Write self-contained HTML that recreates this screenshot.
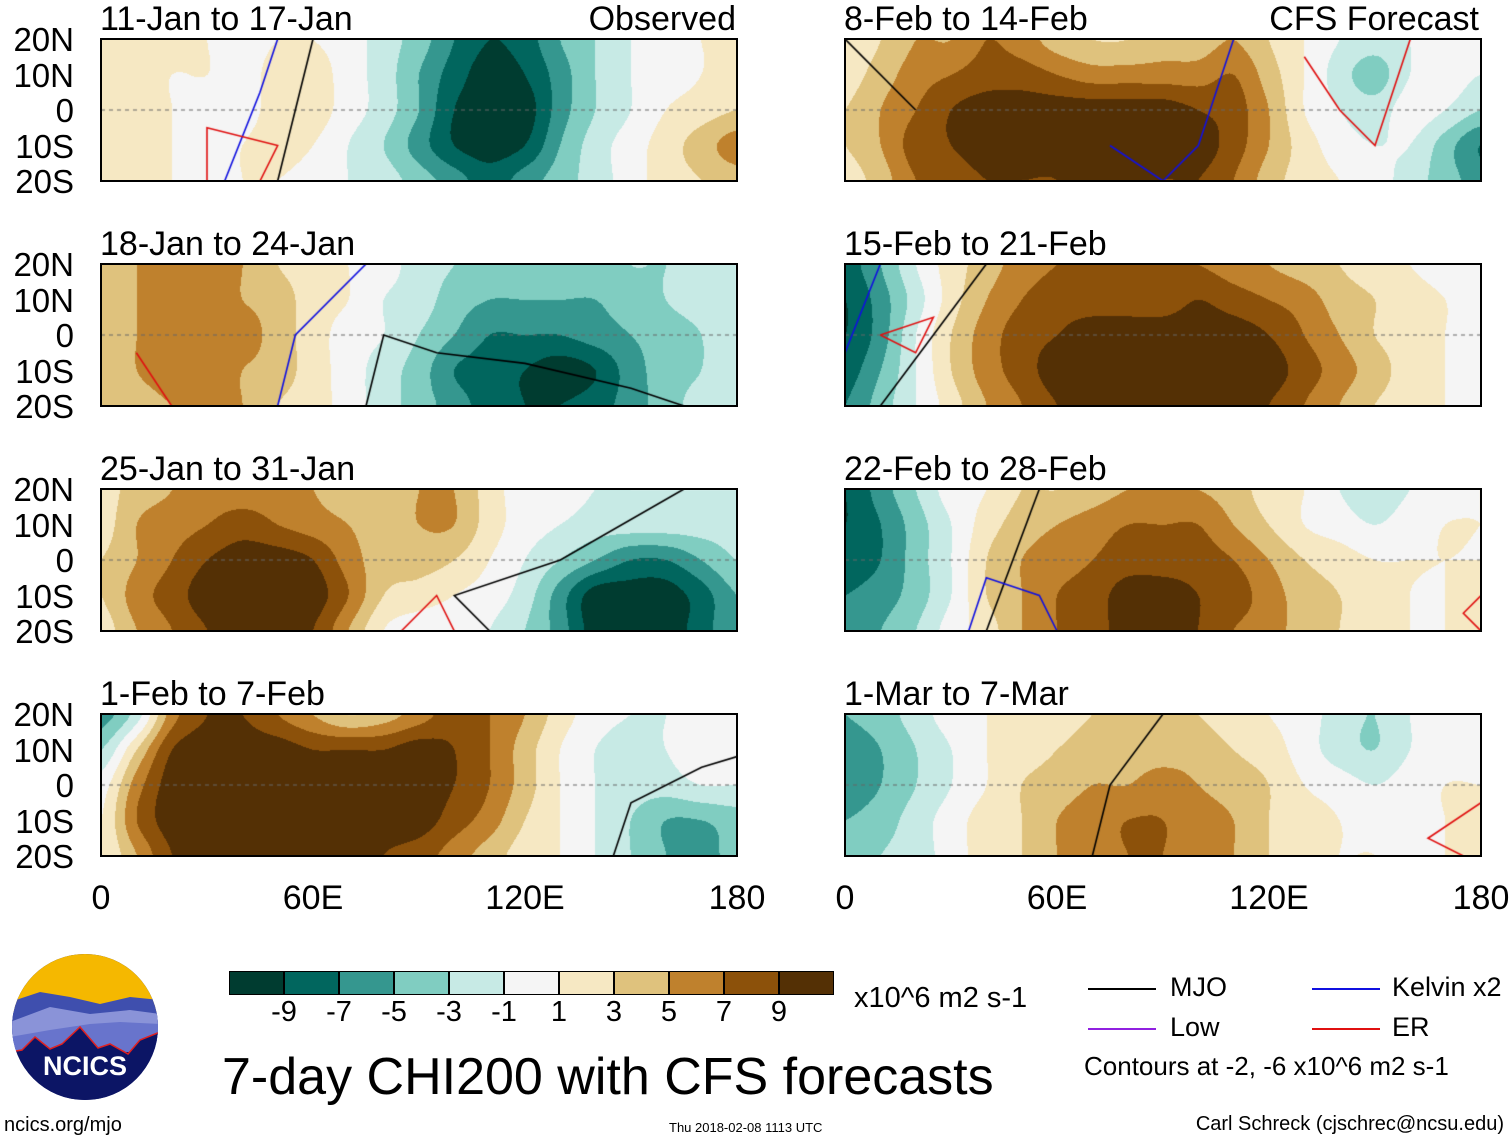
<!DOCTYPE html>
<html><head><meta charset="utf-8">
<style>
body{margin:0;background:#fff;width:1510px;height:1142px;overflow:hidden;position:relative;font-family:"Liberation Sans",Arial,sans-serif;color:#000}
.abs{position:absolute;white-space:nowrap}
canvas{position:absolute}
.frame{position:absolute;border:2px solid #000;box-sizing:border-box}
.t{font-size:34px;line-height:34px}
.yl{font-size:33px;line-height:33px;text-align:right;width:72px}
.xl{font-size:34px;line-height:34px}
</style></head><body>
<div id="root"></div>
<svg id="logo" class="abs" style="left:10px;top:952px" width="150" height="150" viewBox="0 0 150 150">
<defs><clipPath id="cc"><circle cx="75" cy="75" r="73"/></clipPath></defs>
<g clip-path="url(#cc)">
<rect width="150" height="150" fill="#0c1565"/>
<rect width="150" height="60" fill="#f5b800"/>
<path d="M0 50 L30 40 L60 45 L90 52 L120 45 L150 48 L150 100 L0 100Z" fill="#3f4fae"/>
<path d="M0 70 L40 55 L80 62 L120 58 L150 62 L150 100 L0 100Z" fill="#8a93d8"/>
<path d="M0 85 L40 78 L80 72 L110 70 L150 72 L150 100 L0 100Z" fill="#6874cc"/>
<path d="M0 100 L12 98 L25 85 L40 97 L52 92 L70 75 L88 96 L100 92 L118 102 L130 88 L150 80 L150 150 L0 150Z" fill="#0c1565" stroke="#e02020" stroke-width="1.5"/>
<text x="75" y="123" text-anchor="middle" font-family="Liberation Sans" font-weight="bold" font-size="27" fill="#fff">NCICS</text>
</g></svg>
<script>
// ---- Data ----
const lonTicks=["0","60E","120E","180"];
const latTicks=["20N","10N","0","10S","20S"];
const levels=[-9,-7,-5,-3,-1,1,3,5,7,9];
const levelColors=["#003c30","#01665e","#35978f","#80cdc1","#c7eae5","#f5f5f5","#f6e8c3","#dfc27d","#bf812d","#8c510a","#543005"];
const panelTitles=["11-Jan to 17-Jan","18-Jan to 24-Jan","25-Jan to 31-Jan","1-Feb to 7-Feb","8-Feb to 14-Feb","15-Feb to 21-Feb","22-Feb to 28-Feb","1-Mar to 7-Mar"];
const p1=[[2,2,2,1,0,1,1,0,-2,-4,-7,-9,-8,-5,-3,-1,0,1,1],[2,2,1,1,0,2,2,0,-2,-5,-8,-10,-9,-6,-3,-1,0,1,2],[2,2,1,0,0,2,2,0,-2,-5,-9,-10,-10,-6,-3,-1,1,2,3],[2,2,1,0,1,2,1,-1,-3,-6,-9,-10,-9,-5,-2,0,2,4,6],[2,2,1,0,1,1,0,-1,-2,-4,-6,-8,-6,-4,-2,0,2,3,4]];
const p2=[[3,5,6,6,5,3,2,1,0,-2,-3,-4,-4,-4,-4,-3,-3,-2,-1],[3,5,6,6,5,4,2,1,-1,-2,-4,-5,-5,-5,-5,-4,-3,-2,-1],[3,5,6,6,6,4,2,0,-1,-3,-5,-7,-7,-7,-6,-5,-4,-3,-1],[3,5,6,6,5,4,2,0,-2,-4,-7,-8,-9,-10,-9,-6,-4,-3,-1],[3,4,5,5,5,3,2,0,-2,-4,-6,-8,-9,-9,-8,-6,-4,-2,-1]];
const p3=[[2,4,5,6,6,6,5,4,4,5,5,2,0,0,-1,-1,-1,-1,-1],[2,5,6,7,8,7,6,5,4,5,5,2,0,-1,-2,-2,-2,-2,-2],[3,5,7,9,10,10,9,6,4,4,3,1,-1,-3,-5,-7,-7,-5,-3],[3,6,8,10,10,10,10,7,3,2,1,0,-2,-6,-10,-10,-10,-8,-5],[2,5,7,9,10,10,9,5,1,0,0,-1,-3,-6,-10,-10,-10,-8,-5]];
const p4=[[-6,-2,6,9,9,7,5,3,4,6,8,7,5,2,0,-1,-1,0,0],[-3,3,9,10,10,10,9,9,9,10,9,7,4,1,-1,-2,-1,0,0],[0,6,10,10,10,10,10,10,10,10,9,7,4,1,-1,-2,-2,-1,-1],[1,7,10,10,10,10,10,10,10,10,8,6,3,1,-1,-3,-5,-5,-4],[1,5,9,10,10,10,10,10,9,8,6,4,2,1,-1,-3,-5,-6,-4]];
const p5=[[1,3,5,5,7,6,4,3,3,4,4,5,3,1,-1,-2,-1,0,0],[2,4,6,7,8,8,7,6,6,6,6,7,4,1,-2,-4,-1,0,-1],[3,5,7,9,10,10,10,10,10,10,9,8,5,1,-1,-2,0,-1,-3],[3,5,8,9,10,10,10,10,10,10,10,8,5,2,0,-1,-1,-4,-7],[2,4,7,8,9,9,9,10,10,9,9,7,4,2,1,0,-2,-4,-6]];
const p6=[[-8,-5,-1,2,4,6,7,7,7,7,7,6,5,4,3,2,1,0,0],[-9,-6,-2,2,5,7,8,8,8,8,9,8,7,6,4,3,2,1,0],[-9,-6,-1,3,6,8,9,10,10,10,10,10,9,7,5,3,2,1,0],[-8,-5,-1,3,6,8,10,10,10,10,10,10,10,8,6,4,2,1,0],[-7,-4,-1,2,5,7,9,10,10,10,10,10,9,7,5,3,2,1,0]];
const p7=[[-9,-6,-3,0,1,3,3,4,5,5,5,4,2,1,-1,-2,-1,0,1],[-9,-7,-4,-1,2,4,5,6,7,7,7,5,3,1,0,-1,0,1,1],[-8,-7,-4,-1,3,5,6,7,8,8,8,7,5,3,2,1,1,1,1],[-7,-6,-4,-1,3,5,7,8,10,10,9,8,6,4,3,2,1,1,2],[-6,-5,-3,0,2,5,7,8,10,10,9,7,6,4,3,2,1,1,2]];
const p8=[[-5,-4,-2,0,1,2,2,3,3,3,3,2,1,0,-2,-3,-1,0,0],[-6,-5,-3,-1,1,2,3,4,4,4,4,3,2,0,-2,-3,-1,0,0],[-6,-5,-3,-1,1,3,4,5,5,6,5,4,3,1,0,-1,0,1,1],[-5,-4,-2,0,2,3,5,6,7,7,6,5,3,2,1,0,0,1,1],[-4,-3,-2,0,2,3,5,6,7,7,6,5,3,2,1,1,0,1,1]];
const panelData=[p1,p2,p3,p4,p5,p6,p7,p8];
const mjoLines=[[[60,20],[55,0],[50,-20]],[[75,-20],[80,0],[95,-5],[120,-8],[150,-15],[165,-20]],[[110,-20],[100,-10],[130,0],[165,20]],[[145,-20],[150,-5],[170,5],[180,8]],[[0,20],[20,0]],[[10,-20],[25,0],[40,20]],[[40,-20],[55,20]],[[70,-20],[75,0],[90,20]]];
const kelvinLines=[[[35,-20],[45,5],[50,20]],[[50,-20],[55,0],[75,20]],null,null,[[75,-10],[90,-20],[100,-10],[110,20]],[[0,-5],[10,20]],[[35,-20],[40,-5],[55,-10],[60,-20]],null];
const erLines=[[[30,-20],[30,-5],[50,-10],[45,-20]],[[10,-5],[20,-20]],[[85,-20],[95,-10],[100,-20]],null,[[130,15],[140,0],[150,-10],[160,20]],[[10,0],[25,5],[20,-5],[10,0]],[[180,-10],[175,-15],[180,-20]],[[180,-5],[165,-15],[175,-20]]];

// ---- Layout ----
const colX=[101,845], rowY=[39,264,489,714], PW=636, PH=142;
const root=document.getElementById('root');
function hex(c){return [parseInt(c.substr(1,2),16),parseInt(c.substr(3,2),16),parseInt(c.substr(5,2),16)];}
const rgbs=levelColors.map(hex);
function cr(p0,p1,p2,p3,t){return 0.5*((2*p1)+(-p0+p2)*t+(2*p0-5*p1+4*p2-p3)*t*t+(-p0+3*p1-3*p2+p3)*t*t*t);}
function sample(g,fx,fy){const R=g.length,C=g[0].length;const ix=Math.floor(fx),iy=Math.floor(fy);const tx=fx-ix,ty=fy-iy;
 const cl=(a,m)=>Math.max(0,Math.min(m-1,a));const rows=[];
 for(let j=-1;j<=2;j++){const r=g[cl(iy+j,R)];rows.push(cr(r[cl(ix-1,C)],r[cl(ix,C)],r[cl(ix+1,C)],r[cl(ix+2,C)],tx));}
 return cr(rows[0],rows[1],rows[2],rows[3],ty);}
for(let p=0;p<8;p++){
 const col=p<4?0:1,row=p%4;const x0=colX[col],y0=rowY[row];
 const cv=document.createElement('canvas');cv.width=PW;cv.height=PH;cv.style.left=x0+'px';cv.style.top=y0+'px';
 
 
 root.appendChild(cv);
 const ctx=cv.getContext('2d');const im=ctx.createImageData(PW,PH);const g=panelData[p];
 for(let y=0;y<PH;y++)for(let x=0;x<PW;x++){const v=sample(g,x/(PW-1)*18,y/(PH-1)*4);let i=0;while(i<levels.length&&v>=levels[i])i++;const c=rgbs[i];const k=(y*PW+x)*4;im.data[k]=c[0];im.data[k+1]=c[1];im.data[k+2]=c[2];im.data[k+3]=255;}
 ctx.putImageData(im,0,0);
 const lx=l=>l/180*PW, ly=l=>(20-l)/40*PH;
 ctx.setLineDash([4,4]);ctx.strokeStyle='#666';ctx.lineWidth=1;ctx.beginPath();ctx.moveTo(0,PH/2);ctx.lineTo(PW,PH/2);ctx.stroke();ctx.setLineDash([]);
 function drawLine(pts,c){if(!pts)return;ctx.strokeStyle=c;ctx.lineWidth=1.6;ctx.beginPath();pts.forEach((q,i)=>{const X=lx(q[0]),Y=ly(q[1]);i?ctx.lineTo(X,Y):ctx.moveTo(X,Y);});ctx.stroke();}
 drawLine(mjoLines[p],'#000');drawLine(kelvinLines[p],'#1010e0');drawLine(erLines[p],'#e01010');
 const fr=document.createElement('div');fr.className='frame';fr.style.cssText=`left:${x0-1}px;top:${y0-1}px;width:${PW+2}px;height:${PH+2}px`;
 
 
 root.appendChild(fr);
 const t=document.createElement('div');t.className='abs t';t.style.left=(x0-1)+'px';t.style.top=(y0-37)+'px';t.textContent=panelTitles[p];
 
 
 root.appendChild(t);
 if(col===0){latTicks.forEach((s,i)=>{const d=document.createElement('div');d.className='abs yl';d.style.left='2px';d.style.top=(y0+i*PH/4-16)+'px';d.textContent=s;
  
  
  root.appendChild(d);});}
}
[["Observed",736],["CFS Forecast",1479]].forEach(([s,r])=>{const d=document.createElement('div');d.className='abs t';d.style.right=(1510-r)+'px';d.style.top='2px';d.textContent=s;
 
 
 root.appendChild(d);});
colX.forEach(x0=>{lonTicks.forEach((s,i)=>{const d=document.createElement('div');d.className='abs xl';const cx=x0+i*PW/3;d.style.left=(cx-60)+'px';d.style.width='120px';d.style.textAlign='center';d.style.top='881px';d.textContent=s;
 
 
 root.appendChild(d);});});
const cbx=229,cby=971,cbw=55,cbh=24;
levelColors.forEach((c,i)=>{const d=document.createElement('div');d.className='abs';d.style.cssText=`left:${cbx+i*cbw}px;top:${cby}px;width:${cbw}px;height:${cbh}px;background:${c};border:1.5px solid #000;box-sizing:border-box`;
 
 
 root.appendChild(d);});
levels.forEach((v,i)=>{const d=document.createElement('div');d.className='abs';d.style.cssText=`left:${cbx+(i+1)*cbw-30}px;width:60px;text-align:center;top:996px;font-size:29px`;d.textContent=v;
 
 
 root.appendChild(d);});
</script>
<div class="abs" style="left:854px;top:982px;font-size:29px">x10^6 m2 s-1</div>
<div class="abs" style="left:222px;top:1047px;font-size:52px">7-day CHI200 with CFS forecasts</div>
<div class="abs" style="left:1088px;top:972px;font-size:27px"><span style="display:inline-block;width:68px;height:2px;background:#000;vertical-align:middle;margin-right:14px"></span>MJO</div>
<div class="abs" style="left:1088px;top:1012px;font-size:27px"><span style="display:inline-block;width:68px;height:2px;background:#9020e0;vertical-align:middle;margin-right:14px"></span>Low</div>
<div class="abs" style="left:1312px;top:972px;font-size:27px"><span style="display:inline-block;width:68px;height:2px;background:#1010e0;vertical-align:middle;margin-right:12px"></span>Kelvin x2</div>
<div class="abs" style="left:1312px;top:1012px;font-size:27px"><span style="display:inline-block;width:68px;height:2px;background:#e01010;vertical-align:middle;margin-right:12px"></span>ER</div>
<div class="abs" style="left:1084px;top:1051px;font-size:26px">Contours at -2, -6 x10^6 m2 s-1</div>
<div class="abs" style="left:4px;top:1114px;font-size:20px">ncics.org/mjo</div>
<div class="abs" style="left:669px;top:1120px;font-size:13px">Thu 2018-02-08 1113 UTC</div>
<div class="abs" style="right:6px;top:1113px;font-size:20px">Carl Schreck (cjschrec@ncsu.edu)</div>
</body></html>
